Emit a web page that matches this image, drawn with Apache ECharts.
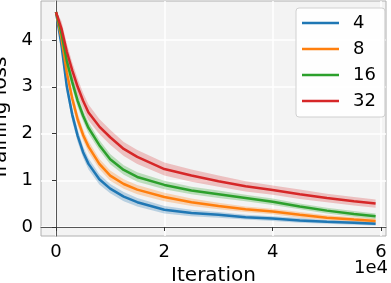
<!DOCTYPE html>
<html>
<head>
<meta charset="utf-8">
<script src="https://cdn.jsdelivr.net/npm/echarts@6/dist/echarts.min.js"></script>
<style>html,body{margin:0;padding:0;background:#fff;}#c{width:391px;height:283px;}</style>
</head>
<body>
<div id="c"></div>
<script>
// ---- data ----
const iterations = [0, 1000, 2000, 3000, 4000, 5000, 6000, 8000, 10000, 12500, 15000, 20000, 25000, 30000, 35000, 40000, 45000, 50000, 55000, 59000];
const loss4  = [4.6, 3.9, 3.0, 2.4, 1.95, 1.6, 1.35, 1.02, 0.82, 0.65, 0.53, 0.37, 0.30, 0.26, 0.21, 0.18, 0.14, 0.11, 0.09, 0.07];
const loss8  = [4.6, 4.05, 3.3, 2.75, 2.3, 1.97, 1.72, 1.35, 1.10, 0.92, 0.80, 0.64, 0.53, 0.45, 0.38, 0.33, 0.26, 0.20, 0.16, 0.13];
const loss16 = [4.6, 4.15, 3.55, 3.1, 2.7, 2.38, 2.12, 1.75, 1.45, 1.22, 1.07, 0.90, 0.78, 0.70, 0.62, 0.54, 0.44, 0.35, 0.28, 0.23];
const loss32 = [4.6, 4.25, 3.75, 3.35, 3.0, 2.7, 2.45, 2.15, 1.92, 1.67, 1.50, 1.24, 1.10, 0.98, 0.87, 0.79, 0.70, 0.62, 0.55, 0.50];
const spread4  = [0.03, 0.14, 0.14, 0.14, 0.13, 0.12, 0.12, 0.11, 0.10, 0.10, 0.09, 0.08, 0.07, 0.06, 0.05, 0.05, 0.05, 0.04, 0.04, 0.04];
const spread8  = [0.03, 0.14, 0.14, 0.14, 0.13, 0.12, 0.12, 0.11, 0.11, 0.10, 0.10, 0.09, 0.08, 0.07, 0.06, 0.06, 0.06, 0.05, 0.05, 0.05];
const spread16 = [0.03, 0.14, 0.14, 0.14, 0.13, 0.12, 0.12, 0.11, 0.11, 0.10, 0.10, 0.09, 0.08, 0.08, 0.07, 0.07, 0.06, 0.06, 0.06, 0.06];
const spread32 = [0.03, 0.16, 0.17, 0.17, 0.17, 0.17, 0.17, 0.16, 0.16, 0.15, 0.15, 0.14, 0.13, 0.12, 0.11, 0.10, 0.10, 0.09, 0.09, 0.09];
const seriesNames = ['4', '8', '16', '32'];
const xTicks = [0, 20000, 40000, 60000];
const yTicks = [0, 1, 2, 3, 4];

const colors = ['#1f77b4', '#ff7f0e', '#2ca02c', '#d62728'];
const bandColors = ['rgba(31,119,180,0.28)', 'rgba(255,127,14,0.28)', 'rgba(44,160,44,0.28)', 'rgba(214,39,40,0.25)'];
const means = [loss4, loss8, loss16, loss32];
const spreads = [spread4, spread8, spread16, spread32];
const FONT = 'DejaVu Sans';

const series = [];
means.forEach((m, k) => {
  const sp = spreads[k];
  const bandData = iterations.map((x, i) => [x, m[i] - sp[i], m[i] + sp[i]]);
  series.push({
    type: 'custom', name: 'band' + k, silent: true, clip: true, z: 1,
    data: bandData,
    encode: { x: 0, y: [1, 2] },
    renderItem: function (params, api) {
      if (params.dataIndex !== 0) return null;
      const upper = bandData.map(d => api.coord([d[0], d[2]]));
      const lower = bandData.map(d => api.coord([d[0], d[1]])).reverse();
      return {
        type: 'polygon',
        shape: { points: upper.concat(lower) },
        style: { fill: bandColors[k] }
      };
    }
  });
});
means.forEach((m, k) => {
  series.push({
    type: 'line', name: seriesNames[k],
    data: iterations.map((x, i) => [x, m[i]]),
    symbol: 'none', color: colors[k],
    lineStyle: { color: colors[k], width: 2.5 }, z: 3
  });
});

const chart = echarts.init(document.getElementById('c'), null, { renderer: 'canvas' });
chart.setOption({
  animation: false,
  textStyle: { fontFamily: FONT },
  grid: {
    left: 41, right: 5, top: 1, bottom: 47,
    outerBoundsMode: 'none', containLabel: false,
    show: true, backgroundColor: '#f3f3f3', borderColor: '#b0b0b0', borderWidth: 1
  },
  legend: {
    data: seriesNames,
    left: 296, top: 8,
    orient: 'vertical',
    icon: 'rect', itemWidth: 37, itemHeight: 2.5, itemGap: 6,
    padding: [5, 9, 6, 6],
    backgroundColor: 'rgba(255,255,255,0.85)',
    borderColor: '#d0d0d0', borderWidth: 1, borderRadius: 3,
    textStyle: { fontSize: 18, lineHeight: 20, color: '#000', fontFamily: FONT, padding: [0, 0, 0, 9] }
  },
  xAxis: {
    type: 'value', min: -2770, max: 60920,
    name: 'Iteration', nameLocation: 'middle', nameGap: 26,
    nameTextStyle: { fontSize: 20, color: '#000', fontFamily: FONT },
    axisLine: { show: true, lineStyle: { color: '#555', width: 1 } },
    axisTick: { show: true, customValues: xTicks, length: 4, lineStyle: { color: '#333' } },
    axisLabel: { customValues: xTicks, fontSize: 18, color: '#000', margin: 7, formatter: v => String(v / 10000) },
    splitLine: { show: true, lineStyle: { color: '#ffffff', width: 1.5 } }
  },
  yAxis: {
    type: 'value', min: -0.193, max: 4.836,
    name: 'Training loss', nameLocation: 'middle', nameGap: 20,
    nameTextStyle: { fontSize: 20, color: '#000', fontFamily: FONT },
    axisLine: { show: true, lineStyle: { color: '#555', width: 1 } },
    axisTick: { show: true, customValues: yTicks, length: 4, lineStyle: { color: '#333' } },
    axisLabel: { customValues: yTicks, fontSize: 18, color: '#000', margin: 8 },
    splitLine: { show: true, lineStyle: { color: '#ffffff', width: 1.5 } }
  },
  graphic: [{
    type: 'text', right: 3, top: 259,
    style: { text: '1e4', fontSize: 18, fill: '#000', fontFamily: FONT }
  }],
  series: series
});
</script>
</body>
</html>
